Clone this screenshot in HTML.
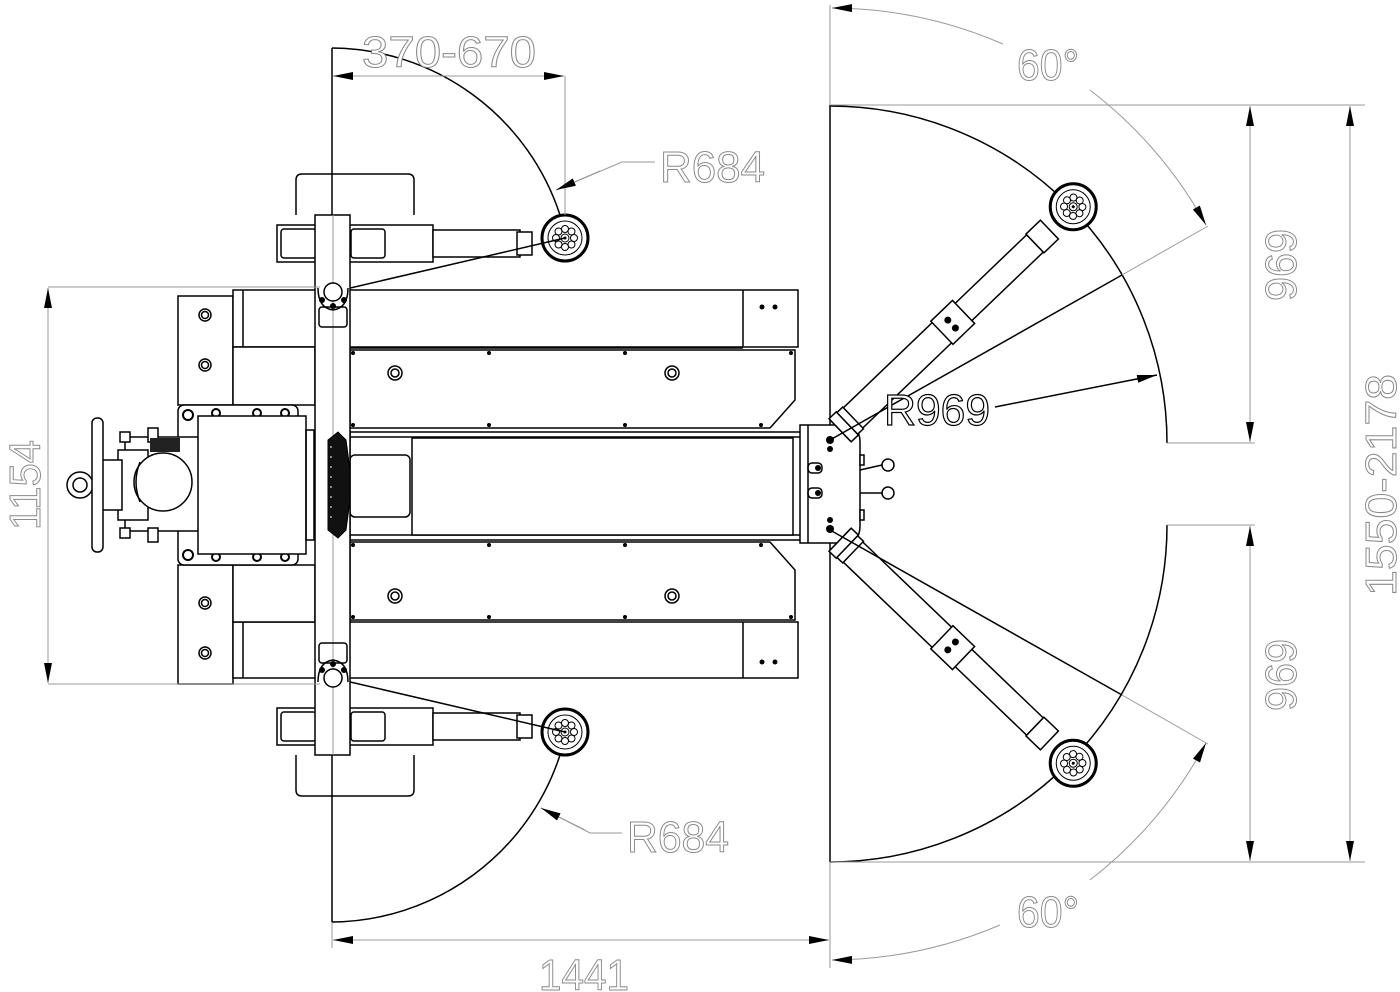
<!DOCTYPE html>
<html><head><meta charset="utf-8"><style>
html,body{margin:0;padding:0;background:#fff;}
svg{display:block}
.k{stroke:#000;fill:none;stroke-width:1.5}
.kf{stroke:#000;fill:#fff;stroke-width:1.5}
.g{stroke:#9a9a9a;fill:none;stroke-width:1}
.t{font-family:"Liberation Sans",sans-serif;font-size:44px;fill:#fff;stroke:#8a8a8a;stroke-width:1}
.tb{font-family:"Liberation Sans",sans-serif;font-size:44px;fill:#fff;stroke:#000;stroke-width:1.2}
</style></head><body>
<svg width="1400" height="992" viewBox="0 0 1400 992" xmlns="http://www.w3.org/2000/svg">
<defs>
<marker id="a" viewBox="0 0 20 8" refX="20" refY="4" markerWidth="20" markerHeight="8" markerUnits="userSpaceOnUse" orient="auto-start-reverse"><path d="M0,0 L20,4 L0,8 Z" fill="#000"/></marker>
<g id="wheel">
<circle r="23" fill="#fff" stroke="#000" stroke-width="3"/>
<circle r="17" fill="none" stroke="#000" stroke-width="1"/>
<circle r="4" fill="none" stroke="#000" stroke-width="1"/>
<circle r="1.5" fill="#000"/>
<circle cx="9" cy="0" r="3.5" fill="none" stroke="#000"/><circle cx="-9" cy="0" r="3.5" fill="none" stroke="#000"/>
<circle cx="0" cy="9" r="3.5" fill="none" stroke="#000"/><circle cx="0" cy="-9" r="3.5" fill="none" stroke="#000"/>
<circle cx="6.5" cy="6.5" r="3.5" fill="none" stroke="#000"/><circle cx="-6.5" cy="-6.5" r="3.5" fill="none" stroke="#000"/>
<circle cx="6.5" cy="-6.5" r="3.5" fill="none" stroke="#000"/><circle cx="-6.5" cy="6.5" r="3.5" fill="none" stroke="#000"/>
</g>
<g id="leftarm">
<!-- handle -->
<path class="k" d="M296,215 V180 Q296,174 302,174 H408 Q414,174 414,180 V215" stroke-width="3"/>
<rect class="kf" x="277" y="225" width="156" height="37"/>
<rect class="k" x="281" y="229" width="35" height="29" rx="3"/>
<rect class="k" x="351" y="229" width="34" height="29" rx="3"/>
<rect class="kf" x="433" y="230" width="87" height="27"/>
<rect class="kf" x="517" y="232" width="15" height="23"/>
<use href="#wheel" x="565" y="238"/>
<line class="k" x1="333" y1="292" x2="565" y2="238" stroke-width="1.2"/>
<!-- arc -->
<path class="k" d="M332,48 A242,242 0 0 1 560,215" stroke-width="1.3"/>
</g>
<g id="rightarm">
<g transform="translate(830,440) rotate(-43.8)">
<rect class="kf" x="14" y="-14" width="170" height="28"/>
<rect class="kf" x="14" y="-16" width="10" height="32"/>
<rect class="kf" x="24" y="-15" width="8" height="30"/>
<rect class="kf" x="184" y="-12" width="100" height="24"/>
<rect class="kf" x="155" y="-16" width="30" height="32"/>
<circle cx="168" cy="-5" r="3.5" fill="#000"/><circle cx="168" cy="6" r="3.5" fill="#000"/>
<rect class="kf" x="284" y="-13" width="20" height="26"/>
<use href="#wheel" x="337" y="0"/>
</g>
<line class="k" x1="830" y1="440" x2="1122" y2="275" stroke-width="1.2"/>
<line class="g" x1="1122" y1="275" x2="1208" y2="226"/>
</g>
</defs>

<!-- ===== Left swing area ===== -->
<line class="k" x1="332" y1="48" x2="332" y2="922" stroke-width="1.5"/>
<line class="g" x1="332" y1="922" x2="332" y2="948"/>
<use href="#leftarm"/>
<use href="#leftarm" transform="translate(0,970) scale(1,-1)"/>

<!-- left end plates -->
<rect class="kf" x="178" y="296" width="55" height="109"/>
<circle class="k" cx="205" cy="315" r="6"/><circle class="k" cx="205" cy="315" r="3.5"/>
<circle class="k" cx="205" cy="365" r="6"/><circle class="k" cx="205" cy="365" r="3.5"/>
<rect class="kf" x="178" y="565" width="55" height="119"/>
<circle class="k" cx="205" cy="603" r="6"/><circle class="k" cx="205" cy="603" r="3.5"/>
<circle class="k" cx="205" cy="653" r="6"/><circle class="k" cx="205" cy="653" r="3.5"/>

<!-- top beam -->
<rect class="kf" x="233" y="290" width="565" height="57"/>
<line class="k" x1="743" y1="290" x2="743" y2="347"/>
<line class="k" x1="243" y1="290" x2="243" y2="347"/>
<circle cx="762" cy="307" r="2.5" fill="#000"/><circle cx="775" cy="307" r="2.5" fill="#000"/>
<rect class="kf" x="233" y="347" width="82" height="58"/>
<!-- bottom beam -->
<rect class="kf" x="233" y="622" width="565" height="56"/>
<line class="k" x1="743" y1="622" x2="743" y2="678"/>
<line class="k" x1="243" y1="622" x2="243" y2="678"/>
<circle cx="762" cy="662" r="2.5" fill="#000"/><circle cx="775" cy="662" r="2.5" fill="#000"/>
<rect class="kf" x="233" y="565" width="82" height="57"/>

<!-- inner plates -->
<path class="kf" d="M350,350 H795 V400 L770,428 H350 Z"/>
<line class="k" x1="350" y1="348" x2="743" y2="348" stroke-width="3"/>
<circle class="k" cx="395" cy="373" r="7"/><circle class="k" cx="395" cy="373" r="4"/>
<circle class="k" cx="672" cy="373" r="7"/><circle class="k" cx="672" cy="373" r="4"/>
<g fill="#000"><circle cx="353" cy="353" r="2"/><circle cx="489" cy="353" r="2"/><circle cx="625" cy="353" r="2"/><circle cx="791" cy="353" r="2"/>
<circle cx="353" cy="425" r="2"/><circle cx="489" cy="425" r="2"/><circle cx="625" cy="425" r="2"/><circle cx="761" cy="425" r="2"/></g>
<path class="kf" d="M350,620 H795 V570 L770,542 H350 Z"/>
<circle class="k" cx="395" cy="596" r="7"/><circle class="k" cx="395" cy="596" r="4"/>
<circle class="k" cx="672" cy="596" r="7"/><circle class="k" cx="672" cy="596" r="4"/>
<g fill="#000"><circle cx="353" cy="617" r="2"/><circle cx="489" cy="617" r="2"/><circle cx="625" cy="617" r="2"/><circle cx="791" cy="617" r="2"/>
<circle cx="353" cy="545" r="2"/><circle cx="489" cy="545" r="2"/><circle cx="625" cy="545" r="2"/><circle cx="761" cy="545" r="2"/></g>

<!-- central beam -->
<rect class="kf" x="350" y="432" width="452" height="108"/>
<line class="k" x1="350" y1="437" x2="800" y2="437"/>
<line class="k" x1="350" y1="535" x2="800" y2="535"/>
<rect class="kf" x="412" y="438" width="381" height="97"/>
<rect class="k" x="350" y="483" width="0" height="0"/>
<rect class="kf" x="350" y="455" width="60" height="62" rx="5"/>

<!-- vertical cross bar -->
<rect class="kf" x="315" y="215" width="35" height="540"/>
<line class="g" x1="333" y1="215" x2="333" y2="755" stroke="#bbb"/>
<circle class="kf" cx="333" cy="292" r="9"/>
<path class="k" d="M318,288 Q318,308 333,310 Q348,308 348,288"/>
<circle cx="322" cy="300" r="3" fill="#000"/><circle cx="344" cy="300" r="3" fill="#000"/><circle cx="333" cy="306" r="3" fill="#000"/>
<rect class="k" x="319" y="307" width="28" height="20" rx="3"/>
<circle class="kf" cx="333" cy="678" r="9"/>
<path class="k" d="M318,682 Q318,662 333,660 Q348,662 348,682"/>
<circle cx="322" cy="670" r="3" fill="#000"/><circle cx="344" cy="670" r="3" fill="#000"/><circle cx="333" cy="664" r="3" fill="#000"/>
<rect class="k" x="319" y="643" width="28" height="20" rx="3"/>

<!-- bumper -->
<path d="M328,440 L338,432 L346,440 L350,470 L350,500 L346,530 L338,538 L328,530 Z" fill="#111" stroke="#000"/>
<path d="M331,446 V526" stroke="#fff" stroke-width="1" stroke-dasharray="2,8"/>

<!-- motor assembly -->
<rect class="kf" x="178" y="405" width="120" height="160" rx="6"/>
<g fill="#fff" stroke="#000" stroke-width="2">
<circle cx="188" cy="415" r="5"/><circle cx="216" cy="413" r="4"/><circle cx="257" cy="413" r="4"/><circle cx="285" cy="413" r="4"/>
<circle cx="188" cy="555" r="5"/><circle cx="216" cy="557" r="4"/><circle cx="257" cy="557" r="4"/><circle cx="285" cy="557" r="4"/>
</g>
<rect class="kf" x="125" y="437" width="75" height="94"/>
<rect class="kf" x="118" y="450" width="30" height="70"/>
<rect class="kf" x="102" y="460" width="20" height="50"/>
<circle class="kf" cx="80" cy="485" r="13"/>
<circle class="k" cx="80" cy="485" r="7"/>
<rect class="kf" x="92" y="418" width="11" height="134" rx="5"/>
<rect class="kf" x="120" y="432" width="10" height="10"/><rect class="kf" x="120" y="528" width="10" height="10"/>
<rect class="kf" x="148" y="428" width="10" height="14"/><rect class="kf" x="148" y="528" width="10" height="14"/>
<rect x="150" y="438" width="30" height="14" fill="#222"/>
<circle class="kf" cx="163" cy="482" r="29" stroke-width="2.5"/>
<path class="k" d="M140,462 Q132,482 140,502"/>
<rect class="kf" x="198" y="416" width="108" height="138"/>
<rect class="k" x="306" y="430" width="8" height="110"/>

<!-- right control box -->
<path class="kf" d="M800,425 H843 Q860,425 860,442 V526 Q860,543 843,543 H800 Z"/>
<line class="k" x1="808" y1="425" x2="808" y2="543"/>
<g stroke="#000" stroke-width="1.5" fill="#fff">
<line x1="860" y1="470" x2="882" y2="465"/><circle cx="888" cy="465" r="6"/>
<line x1="860" y1="493" x2="882" y2="493"/><circle cx="888" cy="493" r="6"/>
<rect x="860" y="455" width="4" height="10"/><rect x="860" y="510" width="4" height="10"/>
</g>
<rect class="k" x="808" y="463" width="14" height="10" rx="4"/><circle cx="818" cy="468" r="3" fill="#000"/>
<rect class="k" x="808" y="488" width="14" height="10" rx="4"/><circle cx="818" cy="493" r="3" fill="#000"/>
<circle cx="830" cy="440" r="4" fill="#000"/><circle cx="830" cy="449" r="3" fill="#000"/>
<circle cx="830" cy="529" r="4" fill="#000"/><circle cx="830" cy="520" r="3" fill="#000"/>

<!-- right swing area -->
<line class="k" x1="830" y1="105" x2="830" y2="425"/>
<line class="k" x1="830" y1="543" x2="830" y2="862"/>
<line class="g" x1="830" y1="5" x2="830" y2="105"/>
<line class="g" x1="830" y1="862" x2="830" y2="968"/>
<path class="k" d="M830,106 A337,337 0 0 1 1167,443"/>
<path class="k" d="M1167,525 A337,337 0 0 1 830,862"/>
<use href="#rightarm"/>
<use href="#rightarm" transform="translate(0,970) scale(1,-1)"/>

<!-- right dims -->
<line class="g" x1="830" y1="105" x2="1365" y2="105"/>
<line class="g" x1="830" y1="862" x2="1365" y2="862"/>
<line class="g" x1="1167" y1="443" x2="1255" y2="443"/>
<line class="g" x1="1167" y1="525" x2="1255" y2="525"/>
<line class="g" x1="1250" y1="106" x2="1250" y2="442" marker-start="url(#a)" marker-end="url(#a)"/>
<line class="g" x1="1250" y1="526" x2="1250" y2="861" marker-start="url(#a)" marker-end="url(#a)"/>
<line class="g" x1="1350" y1="106" x2="1350" y2="861" marker-start="url(#a)" marker-end="url(#a)"/>
<text class="t" transform="translate(1296,265) rotate(-90)" text-anchor="middle" textLength="72" lengthAdjust="spacingAndGlyphs">969</text>
<text class="t" transform="translate(1296,675) rotate(-90)" text-anchor="middle" textLength="72" lengthAdjust="spacingAndGlyphs">969</text>
<text class="t" transform="translate(1396,485) rotate(-90)" text-anchor="middle" textLength="222" lengthAdjust="spacingAndGlyphs">1550-2178</text>

<!-- 60° arcs -->
<path class="g" d="M1003,44 A435,435 0 0 0 832,8" marker-end="url(#a)"/>
<path class="g" d="M1090,90 A435,435 0 0 1 1206,225" marker-end="url(#a)"/>
<text class="t" x="1048" y="80" text-anchor="middle" textLength="62" lengthAdjust="spacingAndGlyphs">60°</text>
<path class="g" d="M1000,925 A435,435 0 0 1 832,960" marker-end="url(#a)"/>
<path class="g" d="M1090,880 A435,435 0 0 0 1206,743" marker-end="url(#a)"/>
<text class="t" x="1048" y="927" text-anchor="middle" textLength="62" lengthAdjust="spacingAndGlyphs">60°</text>

<!-- R969 -->
<line class="k" x1="995" y1="407" x2="1157" y2="375" marker-end="url(#a)" stroke-width="1.3"/>
<text class="tb" x="884" y="425" textLength="106" lengthAdjust="spacingAndGlyphs">R969</text>

<!-- left dims -->
<line class="g" x1="48" y1="287" x2="320" y2="287"/>
<line class="g" x1="48" y1="684" x2="320" y2="684"/>
<line class="g" x1="48" y1="288" x2="48" y2="683" marker-start="url(#a)" marker-end="url(#a)"/>
<text class="t" transform="translate(40,485) rotate(-90)" text-anchor="middle" textLength="90" lengthAdjust="spacingAndGlyphs">1154</text>

<line class="g" x1="333" y1="76" x2="564" y2="76" marker-start="url(#a)" marker-end="url(#a)"/>
<line class="g" x1="565" y1="76" x2="565" y2="215"/>
<text class="t" x="362" y="67" textLength="174" lengthAdjust="spacingAndGlyphs">370-670</text>

<polyline class="g" points="655,162 622,162 556,190" />
<line class="g" x1="600" y1="171" x2="556" y2="190" marker-end="url(#a)"/>
<text class="t" x="660" y="182" textLength="105" lengthAdjust="spacingAndGlyphs">R684</text>
<polyline class="g" points="622,833 590,833 541,808"/>
<line class="g" x1="585" y1="830" x2="541" y2="808" marker-end="url(#a)"/>
<text class="t" x="627" y="852" textLength="102" lengthAdjust="spacingAndGlyphs">R684</text>

<line class="g" x1="333" y1="940" x2="829" y2="940" marker-start="url(#a)" marker-end="url(#a)"/>
<text class="t" x="539" y="990" textLength="90" lengthAdjust="spacingAndGlyphs">1441</text>
</svg>
</body></html>
